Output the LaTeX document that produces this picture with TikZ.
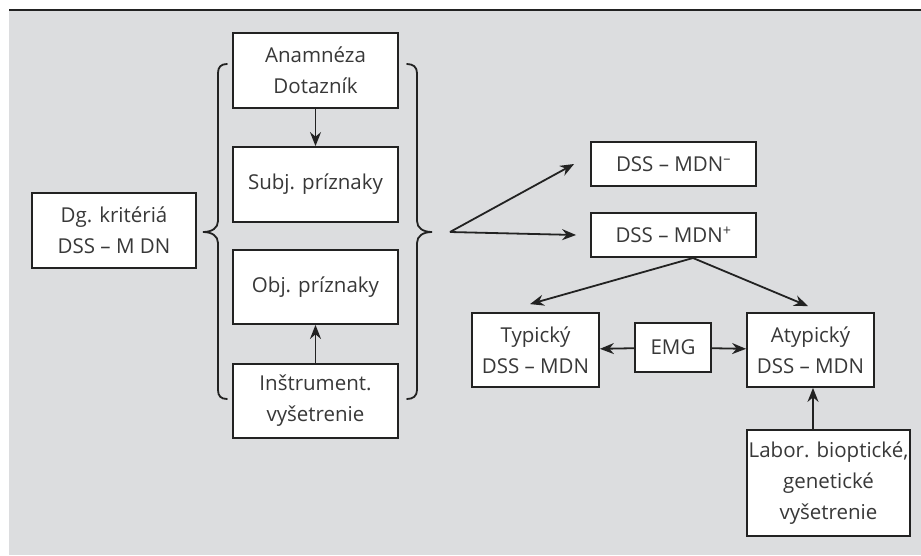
\documentclass[tikz,border=0pt]{standalone}
\usepackage{fontspec}
\setmainfont{Open Sans}
\usetikzlibrary{arrows.meta}
\definecolor{panel}{HTML}{DCDDDF}
\definecolor{ink}{HTML}{222222}
\definecolor{txt}{HTML}{383838}
\tikzset{
  x=1pt, y=-1pt,
  box/.style={draw=ink, fill=white, line width=1.8pt, inner sep=0pt,
    align=center, text=txt,
    font=\fontsize{20.5}{31}\selectfont},
  conn/.style={draw=ink, line width=1.8pt,
    -{Stealth[length=14pt,width=11pt]}},
  bracepath/.style={draw=ink, line width=1.8pt, line cap=round}
}
\begin{document}
\begin{tikzpicture}
\useasboundingbox (0,0) rectangle (921,555);
% panel and its top rule
\fill[panel] (9,10) rectangle (921,555);
\draw[ink, line width=2pt] (9,9.5) -- (921,9.5);

% left column of findings
\node[box, minimum width=165pt, minimum height=75pt] (ana) at (315.5,70.5) {Anamnéza\\Dotazník};
\node[box, minimum width=165pt, minimum height=75pt] (subj) at (315.5,184.5) {Subj. príznaky};
\node[box, minimum width=165pt, minimum height=74pt] (obj) at (315.5,287) {Obj. príznaky};
\node[box, minimum width=165pt, minimum height=74pt] (inst) at (315.5,401) {Inštrument.\\vyšetrenie};
\node[box, minimum width=164pt, minimum height=75pt] (dg) at (114,230.5) {Dg. kritériá\\DSS – M DN};

% outcome boxes
\node[box, minimum width=165pt, minimum height=44pt] (minus) at (673.5,164) {DSS – MDN\textsuperscript{–}};
\node[box, minimum width=165pt, minimum height=44pt] (plus) at (673.5,235) {DSS – MDN\textsuperscript{+}};
\node[box, minimum width=127pt, minimum height=74pt] (typ) at (535.5,350) {Typický\\DSS – MDN};
\node[box, minimum width=76pt, minimum height=49pt] (emg) at (673,347.5) {EMG};
\node[box, minimum width=127pt, minimum height=74pt] (atyp) at (810.5,350) {Atypický\\DSS – MDN};
\node[box, minimum width=163pt, minimum height=106pt] (lab) at (828.5,483) {Labor. bioptické,\\genetické\\vyšetrenie};

% braces
\draw[bracepath] (227,64) .. controls (221,64) and (218,67) .. (218,73)
  -- (218,221) .. controls (218,228) and (212,232) .. (203,232)
  .. controls (212,232) and (218,236) .. (218,243)
  -- (218,390) .. controls (218,396) and (221,399) .. (227,399);
\draw[bracepath] (407,64) .. controls (413,64) and (417,67) .. (417,73)
  -- (417,221) .. controls (417,228) and (423,232) .. (432,232)
  .. controls (423,232) and (417,236) .. (417,243)
  -- (417,390) .. controls (417,396) and (413,399) .. (407,399);

% connectors
\coordinate (fork) at (450,232);
\draw[conn] (ana) -- (subj);
\draw[conn] (inst) -- (obj);
\draw[conn] (fork) -- ([xshift=-16pt]minus.west);
\draw[conn] (fork) -- ([xshift=-14pt]plus.west);
\coordinate (split) at (693,258);
\draw[conn] (split) -- ([xshift=-5.5pt,yshift=8pt]typ.north);
\draw[conn] (split) -- ([xshift=-2.5pt,yshift=6pt]atyp.north);
\draw[conn] (emg) -- (typ);
\draw[conn] (emg) -- (atyp);
\draw[conn] (lab.north -| atyp.south) ++(2.5,0) -- ([xshift=2.5pt]atyp.south);
\end{tikzpicture}
\end{document}
